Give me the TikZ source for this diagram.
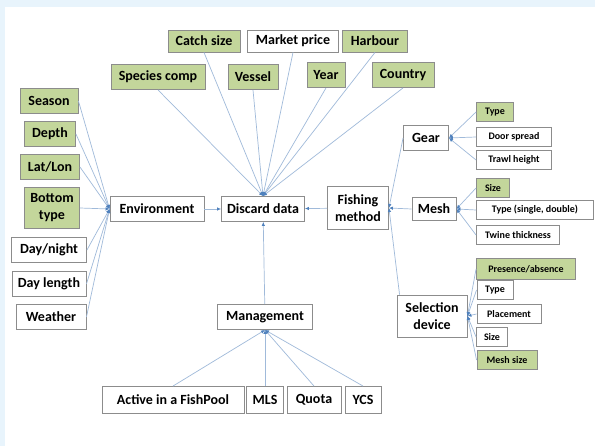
\documentclass[tikz,border=0pt]{standalone}
\usepackage{fontspec}
\setmainfont{Carlito}
\usepackage{tikz}
\usetikzlibrary{arrows.meta,positioning}

\definecolor{known}{RGB}{195,214,155}
\definecolor{boxgray}{RGB}{140,140,140}
\definecolor{linkblue}{RGB}{160,186,218}
\definecolor{tipblue}{RGB}{79,129,189}
\definecolor{paneblue}{RGB}{232,244,252}

\begin{document}
\begin{tikzpicture}[x=1pt,y=-1pt]
		\tikzstyle{Box}		= [rectangle, draw=boxgray, line width=0.9pt, fill=white, inner sep=1pt, align=center]
		\tikzstyle{Big}		= [Box, minimum height=25pt, font=\bfseries\fontsize{14}{17}\selectfont]
		\tikzstyle{Small}	= [Box, minimum height=19pt, font=\bfseries\fontsize{10}{11}\selectfont]
		\tikzstyle{Known}	= [fill=known]
		\tikzstyle{Link}	= [draw=linkblue, line width=0.7pt, -{Latex[color=tipblue, length=4pt, width=3.5pt]}]

		% page
		\fill [paneblue] (0,0) rectangle (595,446);
		\fill [white] (5,7) rectangle (595,446);
		\useasboundingbox (0,0) rectangle (595,446);

		% core
		\node (env) at (157,209) [Big, minimum width=94pt] {Environment};
		\node (discard) at (263,209) [Big, minimum width=83pt] {Discard data};
		\node (fm) at (358,208) [Big, minimum width=61pt, minimum height=43pt] {Fishing\\method};
		\node (mgmt) at (265,317) [Big, minimum width=95pt] {Management};

		% top
		\node (catch) at (204,41) [Big, Known, minimum width=72pt, minimum height=22pt] {Catch size};
		\node (market) at (293,41) [Big, minimum width=91pt, minimum height=22pt] {Market price};
		\node (harbour) at (375,41) [Big, Known, minimum width=65pt, minimum height=22pt] {Harbour};
		\node (species) at (158,77) [Big, Known, minimum width=94pt] {Species comp};
		\node (vessel) at (253,77) [Big, Known, minimum width=50pt] {Vessel};
		\node (year) at (326,75) [Big, Known, minimum width=38pt] {Year};
		\node (country) at (403,75) [Big, Known, minimum width=62pt] {Country};

		% left
		\node (season) at (49,101) [Big, Known, minimum width=58pt] {Season};
		\node (depth) at (50,134) [Big, Known, minimum width=51pt] {Depth};
		\node (latlon) at (50,167) [Big, Known, minimum width=59pt] {Lat/Lon};
		\node (bottom) at (52,208) [Big, Known, minimum width=55pt, minimum height=41pt] {Bottom\\type};
		\node (daynight) at (49,250) [Big, minimum width=75pt] {Day/night};
		\node (daylength) at (49,284) [Big, minimum width=74pt] {Day length};
		\node (weather) at (51,317) [Big, minimum width=70pt] {Weather};

		% bottom
		\node (active) at (173,400) [Big, minimum width=142pt, minimum height=27pt] {Active in a FishPool};
		\node (mls) at (265,400) [Big, minimum width=37pt, minimum height=27pt] {MLS};
		\node (quota) at (314,400) [Big, minimum width=54pt, minimum height=27pt] {Quota};
		\node (ycs) at (363,400) [Big, minimum width=36pt, minimum height=27pt] {YCS};

		% right
		\node (gear) at (426,138) [Big, minimum width=45pt] {Gear};
		\node (mesh) at (434,209) [Big, minimum width=44pt, minimum height=23pt] {Mesh};
		\node (sd) at (432,316) [Big, minimum width=70pt, minimum height=42pt] {Selection\\device};

		\node (gtype) at (495,112) [Small, Known, minimum width=37pt] {Type};
		\node (door) at (514,137) [Small, minimum width=75pt] {Door spread};
		\node (trawl) at (514,160) [Small, minimum width=75pt] {Trawl height};

		\node (msize) at (493,188) [Small, Known, minimum width=33pt] {Size};
		\node (mtype) at (535,210) [Small, minimum width=117pt] {Type (single, double)};
		\node (twine) at (518,235) [Small, minimum width=83pt] {Twine thickness};

		\node (pres) at (526,269) [Small, Known, minimum width=99pt, minimum height=21pt] {Presence/absence};
		\node (stype) at (495,290) [Small, minimum width=36pt] {Type};
		\node (place) at (509,314) [Small, minimum width=64pt] {Placement};
		\node (ssize) at (492,337) [Small, minimum width=31pt] {Size};
		\node (meshsize) at (507,360) [Small, Known, minimum width=60pt] {Mesh size};

		% links into discard data
		\foreach \n in {catch, market, harbour, species, vessel, year, country}
			\draw (\n.south) to (discard.north) [Link];
		\draw (env) to (discard) [Link];
		\draw (fm) to (discard) [Link];
		\draw (mgmt) to (discard) [Link];

		% environment
		\foreach \n in {season, depth, latlon, bottom, daynight, daylength, weather}
			\draw (\n.east) to (env.west) [Link];

		% management
		\foreach \n in {active, mls, quota, ycs}
			\draw (\n.north) to (mgmt.south) [Link];

		% fishing method
		\draw (gear.west) to (fm.east) [Link];
		\draw (mesh.west) to (fm.east) [Link];
		\draw ([xshift=3pt]sd.north west) to (fm.east) [Link];
		\foreach \n in {gtype, door, trawl}
			\draw (\n.west) to (gear.east) [Link];
		\foreach \n in {msize, mtype, twine}
			\draw (\n.west) to (mesh.east) [Link];
		\foreach \n in {pres, stype, place, ssize, meshsize}
			\draw (\n.west) to (sd.east) [Link];
	\end{tikzpicture}
\end{document}
